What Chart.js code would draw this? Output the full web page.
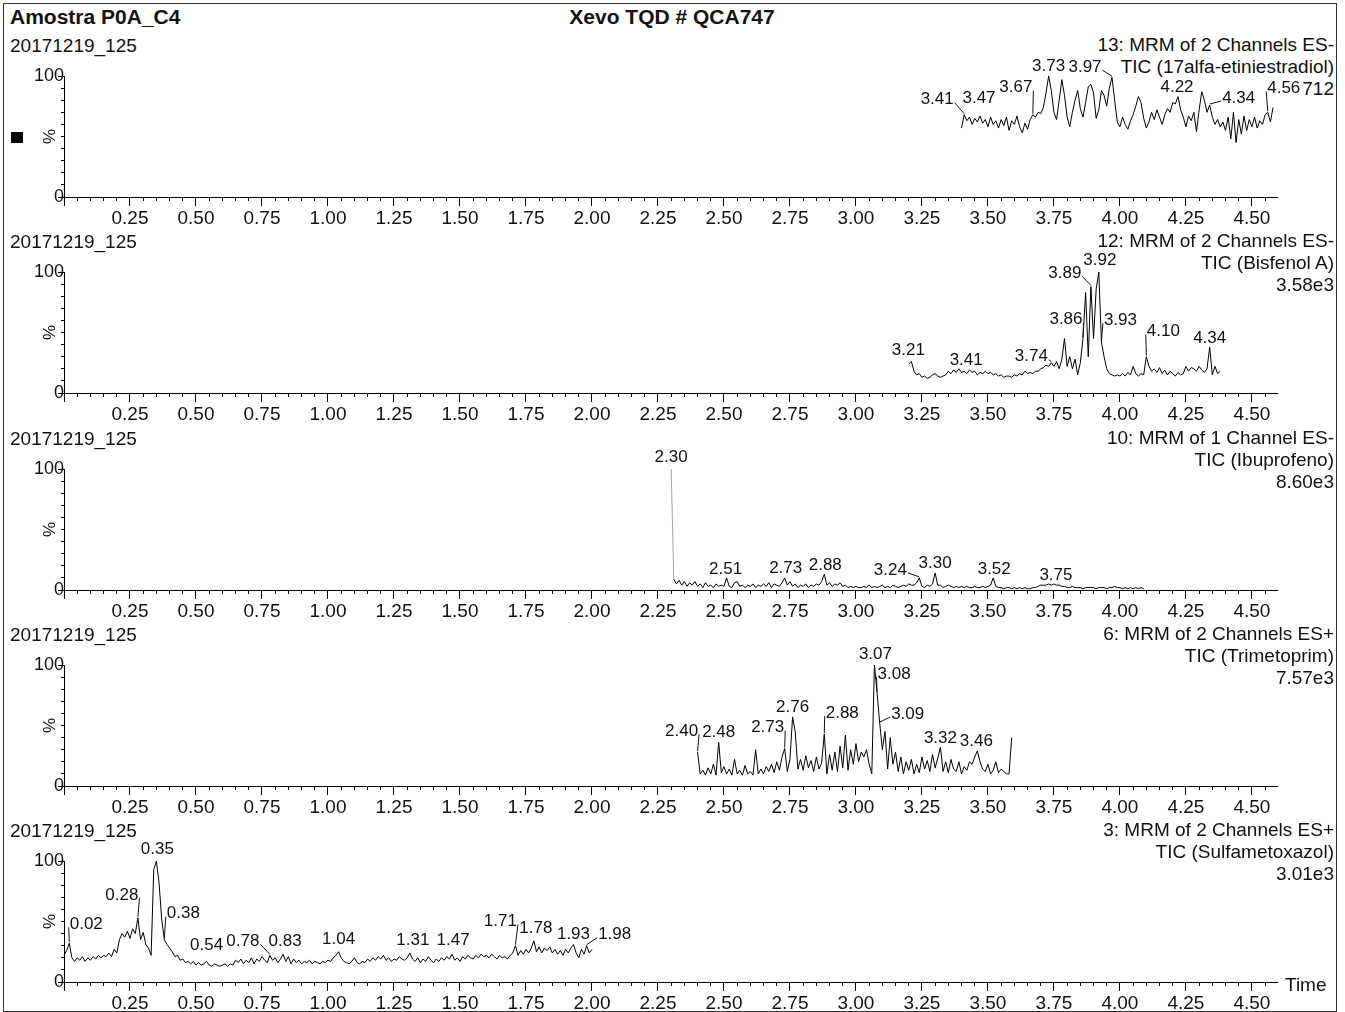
<!DOCTYPE html>
<html lang="pt">
<head>
<meta charset="utf-8">
<title>Amostra P0A_C4</title>
<script src="https://cdn.jsdelivr.net/npm/chart.js@4.4.1/dist/chart.umd.min.js"></script>
<style>
  html, body { margin:0; padding:0; background:#fff; }
  body { width:1345px; height:1012px; position:relative; overflow:hidden;
         font-family:"Liberation Sans", Arial, sans-serif; color:#111; }
  .frame { position:absolute; left:3px; top:3px; width:1334px; height:1009px;
           border:1px solid #333; box-sizing:border-box; }
  .txt { position:absolute; white-space:nowrap; line-height:1; }
  .marker { position:absolute; left:11px; top:132px; width:12px; height:11px; background:#000; }
  canvas { position:absolute; left:0; }
</style>
</head>
<body>
<div class="frame"></div>
<div class="marker"></div>
<script>
// ---- report header ----
const reportTitle = 'Amostra P0A_C4';
const instrumentTitle = 'Xevo TQD # QCA747';
const sampleName = '20171219_125';
const functionNames = ['13: MRM of 2 Channels ES-', '12: MRM of 2 Channels ES-',
  '10: MRM of 1 Channel ES-', '6: MRM of 2 Channels ES+', '3: MRM of 2 Channels ES+'];
const ticNames = ['TIC (17alfa-etiniestradiol)', 'TIC (Bisfenol A)', 'TIC (Ibuprofeno)',
  'TIC (Trimetoprim)', 'TIC (Sulfametoxazol)'];
const intensityLabels = ['712', '3.58e3', '8.60e3', '7.57e3', '3.01e3'];
const timeTickLabels = ['0.25','0.50','0.75','1.00','1.25','1.50','1.75','2.00','2.25',
  '2.50','2.75','3.00','3.25','3.50','3.75','4.00','4.25','4.50'];
const percentTickLabels = ['0', '100'];

// ---- chromatograms: relative intensity (%) per scan ----
const scanInterval = 0.01;                       // min between scans
const traceStart = [3.40, 3.20, 2.30, 2.40, 0.00]; // first retention time (min) of each trace

const etiniestradiolPct = [
  57,68,63,66,60,65,62,67,61,64,
  58,66,60,63,57,64,59,66,55,63,
  60,67,58,53,61,56,64,68,66,70,
  69,74,86,100,88,70,64,80,97,84,
  66,58,70,80,88,73,66,78,91,93,
  86,65,72,88,84,75,90,99,80,62,
  58,66,60,56,63,68,75,83,78,65,
  57,62,70,64,72,66,60,68,73,70,
  78,77,83,72,66,58,67,63,70,54,
  72,87,80,70,76,66,60,64,58,62,
  55,66,48,70,45,64,52,67,55,64,
  58,66,57,63,60,68,70,62,74];

const bisfenolPct = [
  24,26,18,15,16,13,14,12,13,15,
  16,14,13,14,15,18,16,19,17,20,
  17,18,16,19,17,18,15,17,16,18,
  16,17,15,16,14,15,13,14,14,13,
  15,14,16,15,18,16,17,16,18,18,
  20,21,23,22,25,22,26,20,28,45,
  22,30,20,28,15,25,45,83,30,88,
  45,86,100,42,30,20,16,15,14,15,
  14,16,14,17,15,22,16,14,16,15,
  30,22,18,20,17,21,16,19,15,18,
  16,14,17,15,16,22,18,21,20,18,
  22,19,17,20,38,15,22,16,18];

const ibuprofenoPct = [
  100,9,5,8,4,7,3,6,4,7,
  3,5,2,6,3,4,2,5,3,4,
  3,10,3,2,6,7,3,4,2,4,
  3,5,2,4,3,5,3,6,2,5,
  4,3,6,10,4,7,3,5,2,4,
  3,5,2,4,3,5,4,7,13,4,
  6,3,5,4,6,3,4,2,3,2,
  3,2,2,3,2,4,2,3,2,3,
  4,2,3,2,4,3,2,3,4,3,
  5,4,4,6,10,3,2,4,3,5,
  14,4,4,2,3,4,3,2,3,2,
  3,2,3,2,2,3,2,2,3,2,
  3,4,10,3,2,2,1,2,2,1,
  2,1,2,1,2,1,1,2,2,3,
  4,4,4,5,4,5,4,4,3,3,
  2,2,3,2,2,2,1,2,2,2,
  2,1,2,2,2,1,2,2,3,2,
  2,1,2,1,2,1,2,1,2,1];

const trimetoprimPct = [
  28,10,13,9,15,10,18,9,36,11,
  16,10,14,9,22,10,13,9,17,10,
  12,9,30,10,14,10,16,12,18,11,
  20,13,24,31,12,22,57,45,14,22,
  13,25,15,21,12,24,14,19,43,10,
  26,13,28,12,33,15,42,13,30,18,
  35,20,28,24,30,18,10,100,77,52,
  30,45,14,40,18,28,12,24,10,20,
  13,22,10,18,11,24,14,21,12,26,
  15,23,32,12,20,11,22,14,12,20,
  10,16,13,20,18,24,29,20,14,12,
  18,10,13,20,11,14,12,10,10,40];

const sulfametoxazolPct = [
  22,26,32,20,17,20,18,21,17,20,
  18,21,19,22,20,22,21,24,21,27,
  24,35,40,37,42,36,44,40,53,35,
  41,31,28,22,93,100,82,52,35,31,
  28,25,21,22,18,19,16,17,15,17,
  14,16,14,15,17,14,13,15,14,13,
  14,15,13,15,14,18,16,19,15,18,
  16,20,15,19,17,21,18,16,22,18,
  20,16,19,23,17,21,15,19,16,18,
  15,17,16,18,15,17,16,15,17,16,
  18,17,20,22,25,20,17,16,15,17,
  20,16,15,17,16,19,17,20,18,21,
  19,22,18,20,17,19,18,21,19,18,
  20,24,19,17,20,16,19,17,21,18,
  16,19,17,20,18,21,19,23,18,20,
  17,21,19,22,20,19,22,20,23,21,
  22,20,23,21,19,22,20,21,19,22,
  24,30,22,26,23,27,24,28,34,25,
  29,24,28,26,29,24,27,23,26,22,
  27,24,28,31,24,20,27,23,30,24,
  27];

// ---- labelled peaks (retention time, min) ----
const etiniestradiolPeaks = [3.41, 3.47, 3.67, 3.73, 3.97, 4.22, 4.34, 4.56];
const bisfenolPeaks = [3.21, 3.41, 3.74, 3.86, 3.89, 3.92, 3.93, 4.10, 4.34];
const ibuprofenoPeaks = [2.30, 2.51, 2.73, 2.88, 3.24, 3.30, 3.52, 3.75];
const trimetoprimPeaks = [2.40, 2.48, 2.73, 2.76, 2.88, 3.07, 3.08, 3.09, 3.32, 3.46];
const sulfametoxazolPeaks = [0.02, 0.28, 0.35, 0.38, 0.54, 0.78, 0.83, 1.04, 1.31, 1.47, 1.71, 1.78, 1.93, 1.98];

// label placement relative to the peak apex: [dx px, dy px, draw leader line]
const etiniestradiolLabelPos = [[-27,-15,1],[-1,-18,0],[-17,-27,1],[0,-10,0],[-27,-10,1],[-1,-9,0],[29,-7,1],[16,-24,1]];
const bisfenolLabelPos = [[-3,-11,0],[2,-11,0],[-20,-6,1],[-17,-19,1],[-26,-13,1],[1,-12,0],[19,-22,1],[17,-25,1],[0,-9,0]];
const ibuprofenoLabelPos = [[0,-12,0],[-1,-9,0],[1,-10,0],[1,-9,0],[-29,-8,1],[0,-10,0],[1,-9,0],[2,-9,0]];
const trimetoprimLabelPos = [[-16,-21,1],[0,-10,0],[-17,-21,1],[0,-10,0],[18,-21,1],[1,-11,0],[17,-19,1],[28,-9,1],[0,-9,0],[-1,-10,0]];
const sulfametoxazolLabelPos = [[17,-19,1],[-16,-23,1],[1,-12,0],[19,-26,1],[0,-16,0],[-27,-14,1],[2,-13,0],[0,-12,0],[3,-13,0],[1,-14,0],[-15,-24,1],[2,-13,0],[0,-10,0],[28,-11,1]];

const traces = [etiniestradiolPct, bisfenolPct, ibuprofenoPct, trimetoprimPct, sulfametoxazolPct];
const peakTimes = [etiniestradiolPeaks, bisfenolPeaks, ibuprofenoPeaks, trimetoprimPeaks, sulfametoxazolPeaks];
const peakLabelPos = [etiniestradiolLabelPos, bisfenolLabelPos, ibuprofenoLabelPos, trimetoprimLabelPos, sulfametoxazolLabelPos];

// ---- page geometry ----
const PAGE_W = 1345;
const TIME_MAX = 4.595;
const PANEL_ZERO_Y = [197, 393, 590, 786, 982];   // page y of the 0 % line in each panel
const PLOT_H = 121;                                // 0 % -> 100 %
const CANVAS_H = 186, ZERO_IN_CANVAS = 150;
const SANS = '"Liberation Sans", Arial, sans-serif';

Chart.defaults.font.family = SANS;
Chart.defaults.color = '#111';

function addText(str, o) {
  const d = document.createElement('div');
  d.className = 'txt';
  d.textContent = str;
  d.style.fontSize = o.size + 'px';
  if (o.bold) d.style.fontWeight = 'bold';
  d.style.top = (o.baseline - 0.8465 * o.size) + 'px';
  if (o.left !== undefined) d.style.left = o.left + 'px';
  if (o.right !== undefined) d.style.right = (PAGE_W - o.right) + 'px';
  if (o.center !== undefined) { d.style.left = o.center + 'px'; d.style.transform = 'translateX(-50%)'; }
  document.body.appendChild(d);
}

addText(reportTitle, { left: 10, baseline: 24, size: 21, bold: true });
addText(instrumentTitle, { center: 672, baseline: 24, size: 21, bold: true });

function peakLabelPlugin(times, placement, values, start) {
  return {
    id: 'peakLabels',
    afterDatasetsDraw(chart) {
      const { ctx, scales: { x, y } } = chart;
      ctx.save();
      ctx.font = '17px ' + SANS;
      ctx.fillStyle = '#111';
      ctx.strokeStyle = '#111';
      ctx.lineWidth = 1;
      ctx.textAlign = 'center';
      ctx.textBaseline = 'middle';
      times.forEach((t, k) => {
        const idx = Math.round((t - start) / scanInterval);
        const px = x.getPixelForValue(t);
        const py = y.getPixelForValue(values[idx]);
        const [dx, dy, lead] = placement[k];
        const label = t.toFixed(2);
        const tx = px + dx, ty = py + dy;
        ctx.fillText(label, tx, ty);
        if (lead) {
          const half = ctx.measureText(label).width / 2;
          const sx = dx < 0 ? tx + half + 1 : tx - half - 1;
          ctx.beginPath();
          ctx.moveTo(sx, ty + 3);
          ctx.lineTo(px, py - 1);
          ctx.stroke();
        }
      });
      // rotated "%" caption beside the intensity axis
      ctx.translate(50, y.getPixelForValue(50));
      ctx.rotate(-Math.PI / 2);
      ctx.font = '17px ' + SANS;
      ctx.fillText('%', 0, 0);
      ctx.restore();
    }
  };
}

traces.forEach((vals, i) => {
  const zeroY = PANEL_ZERO_Y[i];
  addText(sampleName, { left: 10, baseline: zeroY - 145, size: 19 });
  addText(functionNames[i], { right: 1334, baseline: zeroY - 146, size: 19 });
  addText(ticNames[i], { right: 1334, baseline: zeroY - 124, size: 19 });
  addText(intensityLabels[i], { right: 1334, baseline: zeroY - 102, size: 19 });

  const canvas = document.createElement('canvas');
  canvas.width = PAGE_W;
  canvas.height = CANVAS_H;
  canvas.style.top = (zeroY - ZERO_IN_CANVAS) + 'px';
  document.body.appendChild(canvas);

  const start = traceStart[i];
  const points = vals.map((v, k) => ({ x: +(start + k * scanInterval).toFixed(2), y: v }));

  const dataset = {
    data: points,
    borderColor: '#000',
    borderWidth: 1,
    pointRadius: 0,
    tension: 0,
    fill: false,
    clip: false
  };
  if (i === 2) {
    // the isolated first scan of the ibuprofen trace is drawn in grey
    dataset.segment = { borderColor: c => (c.p0DataIndex === 0 ? '#a3a3a3' : '#000') };
  }

  new Chart(canvas, {
    type: 'line',
    data: { datasets: [dataset] },
    options: {
      responsive: false,
      animation: false,
      devicePixelRatio: 1,
      events: [],
      layout: { padding: { top: ZERO_IN_CANVAS - PLOT_H, right: PAGE_W - 1277, left: 0, bottom: 0 } },
      plugins: { legend: { display: false }, tooltip: { enabled: false } },
      scales: {
        x: {
          type: 'linear', position: 'bottom', min: 0, max: TIME_MAX,
          ticks: { stepSize: 0.05, includeBounds: false, autoSkip: false, maxRotation: 0, padding: 0, callback: () => '' },
          grid: { drawOnChartArea: false, tickLength: 4, tickColor: '#000', tickWidth: 1 },
          border: { display: true, color: '#000', width: 1 },
          afterFit: s => { s.height = CANVAS_H - ZERO_IN_CANVAS; }
        },
        xMajor: {
          axis: 'x', type: 'linear', position: { y: 0 }, min: 0, max: TIME_MAX,
          ticks: {
            stepSize: 0.25, includeBounds: false, autoSkip: false, maxRotation: 0, padding: 3,
            color: '#111', font: { family: SANS, size: 19, lineHeight: 1 },
            callback: v => { const s = Number(v).toFixed(2); return timeTickLabels.includes(s) ? s : ''; }
          },
          grid: { drawOnChartArea: false, tickLength: 9, tickColor: '#000', tickWidth: 1 },
          border: { display: false },
          afterFit: s => { s.height = 0; }
        },
        y: {
          type: 'linear', position: 'left', min: 0, max: 100,
          ticks: { stepSize: 10, includeBounds: false, autoSkip: false, padding: 0, callback: () => '' },
          grid: { drawOnChartArea: false, tickLength: 3, tickColor: '#000', tickWidth: 1 },
          border: { display: true, color: '#000', width: 1 },
          afterFit: s => { s.width = 64; }
        },
        yMajor: {
          axis: 'y', type: 'linear', position: { x: 0 }, min: 0, max: 100,
          ticks: {
            stepSize: 100, autoSkip: false, padding: 0, color: '#111', font: { family: SANS, size: 18 },
            callback: v => { const s = String(v); return percentTickLabels.includes(s) ? s : ''; }
          },
          grid: { drawOnChartArea: false, tickLength: 6, tickColor: '#000', tickWidth: 1 },
          border: { display: false },
          afterFit: s => { s.width = 0; }
        }
      }
    },
    plugins: [peakLabelPlugin(peakTimes[i], peakLabelPos[i], vals, start)]
  });
});

addText('Time', { left: 1285, baseline: 991, size: 19 });
</script>
</body>
</html>
